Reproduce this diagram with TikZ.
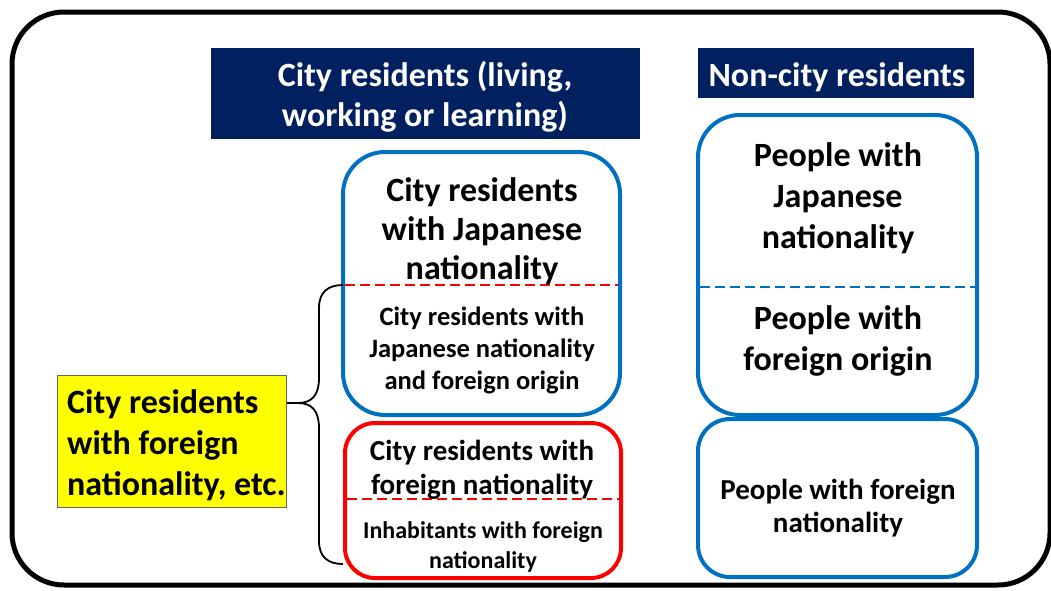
\documentclass[tikz,border=0pt]{standalone}
\usepackage{fontspec}
\setmainfont{Carlito}
\definecolor{navy}{HTML}{002060}
\definecolor{mblue}{HTML}{0070C0}
\definecolor{mred}{HTML}{FF0000}
\definecolor{myellow}{HTML}{FFFF00}
\tikzset{
  hdrtext/.style={text=white, font=\bfseries\fontsize{34}{40}\selectfont, align=center, anchor=base, inner sep=0pt},
  bluebox/.style={draw=mblue, line width=4pt, rounded corners=42pt},
  redbox/.style={draw=mred, line width=4pt, rounded corners=30pt},
  bigtxt/.style={font=\bfseries\fontsize{34}{39}\selectfont, align=center, anchor=base, inner sep=0pt},
  bigtxtb/.style={font=\bfseries\fontsize{34}{41}\selectfont, align=center, anchor=base, inner sep=0pt},
  smalltxt/.style={font=\bfseries\fontsize{26.5}{32}\selectfont, align=center, anchor=base, inner sep=0pt},
  sep/.style={line width=2.8pt, dash pattern=on 10pt off 5pt},
}
\begin{document}
\begin{tikzpicture}[x=1pt,y=-1pt]
\useasboundingbox (0,0) rectangle (1051,590);
% outer frame
\draw[line width=5pt, rounded corners=52pt] (12,12) rectangle (1050,585);
% headers
\fill[navy] (211,48) rectangle (640,139);
\node[hdrtext] (h1) at (425,126) {City residents (living,\\working or learning)};
\fill[navy] (698,48) rectangle (974,98);
\node[hdrtext] (h2) at (837,86) {Non-city residents};
% left blue box
\draw[bluebox] (343,152) rectangle (620,415);
\draw[sep, mred] (345,285) -- (618,285);
\node[bigtxt] (jp) at (482,279) {City residents\\with Japanese\\nationality};
\node[smalltxt] (jpf) at (482,389) {City residents with\\Japanese nationality\\and foreign origin};
% red box
\draw[redbox] (345,423) rectangle (621,578);
\draw[sep, mred] (347,499) -- (619,499);
\node[font=\bfseries\fontsize{29}{34}\selectfont, align=center, anchor=base, inner sep=0pt] (fn) at (482,494) {City residents with\\foreign nationality};
\node[font=\bfseries\fontsize{24}{30}\selectfont, align=center, anchor=base, inner sep=0pt] (inh) at (483,568) {Inhabitants with foreign\\nationality};
% right boxes
\draw[bluebox] (698,115) rectangle (977,415);
\draw[sep, mblue] (700,287) -- (975,287);
\node[bigtxtb] (pj) at (838,248) {People with\\Japanese\\nationality};
\node[bigtxtb] (pfo) at (838,370) {People with\\foreign origin};
\draw[bluebox, rounded corners=32pt] (698,419) rectangle (977,577);
\node[font=\bfseries\fontsize{29}{33}\selectfont, align=center, anchor=base, inner sep=0pt] (pfn) at (838,532) {People with foreign\\nationality};
% yellow box
\node[draw=black!60, line width=0.8pt, fill=myellow, minimum width=229pt, minimum height=132pt, anchor=north west] (yb) at (57,375) {};
\node[font=\bfseries\fontsize{34}{41}\selectfont, align=left, anchor=base west, inner sep=0pt] (ytxt) at (67,495) {City residents\\with foreign\\nationality, etc.};
% brace
\coordinate (btop) at (343,285);
\coordinate (bbot) at (343,564);
\coordinate (btip) at (298,403);
\draw[line width=1.8pt] (yb.east |- btip) -- (btip)
  .. controls (312,403) and (319,395) .. (319,378) -- (319,308)
  .. controls (319,292) and (328,285) .. (btop);
\draw[line width=1.8pt] (btip)
  .. controls (312,403) and (319,411) .. (319,428) -- (319,541)
  .. controls (319,557) and (328,564) .. (bbot);
\end{tikzpicture}
\end{document}
